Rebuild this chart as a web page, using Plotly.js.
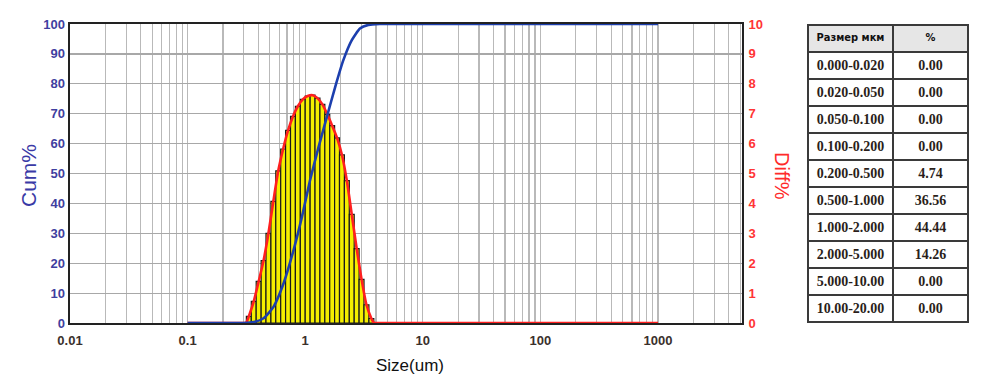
<!DOCTYPE html>
<html>
<head>
<meta charset="utf-8">
<script src="https://cdn.plot.ly/plotly-3.0.1.min.js"></script>
<style>
html,body{margin:0;padding:0;background:#ffffff;}
#chart{width:1000px;height:385px;}
</style>
</head>
<body>
<div id="chart"></div>
<script>
// ---- data ----
const binEdges = [0.316, 0.348, 0.383, 0.422, 0.464, 0.511, 0.562, 0.619, 0.681, 0.750, 0.825, 0.909, 1.000,
                  1.101, 1.212, 1.334, 1.468, 1.616, 1.778, 1.957, 2.154, 2.371, 2.610, 2.873, 3.162, 3.481, 3.831];
const diffValues = [0.22, 0.72, 1.39, 2.09, 3.00, 4.07, 5.09, 5.82, 6.44, 6.91, 7.25, 7.48, 7.59,
                    7.62, 7.52, 7.31, 6.98, 6.60, 6.19, 5.62, 4.76, 3.63, 2.49, 1.46, 0.61, 0.15];
const diffLineEnds = [0.1, 1000];
const cumSize  = [0.1, 0.3, 0.364, 0.443, 0.539, 0.655, 0.796, 0.938, 1.10, 1.30, 1.53, 1.80, 2.11, 2.49, 2.92, 3.44, 4.32, 1000];
const cumValue = [0,   0,   0.3,   1.6,   5.5,   13.3,  24.4,  35.5,  47.8, 58.9, 69.0, 79.0, 87.9, 94.6, 98.5, 99.7, 100, 100];
const xTickVals  = [0.01, 0.1, 1, 10, 100, 1000];
const xTickText  = ["0.01", "0.1", "1", "10", "100", "1000"];
const tableHeader = ["Размер\u00a0мкм", "%"];
const sizeRanges = ["0.000-0.020", "0.020-0.050", "0.050-0.100", "0.100-0.200", "0.200-0.500",
                    "0.500-1.000", "1.000-2.000", "2.000-5.000", "5.000-10.00", "10.00-20.00"];
const rangePercent = ["0.00", "0.00", "0.00", "0.00", "4.74", "36.56", "44.44", "14.26", "0.00", "0.00"];

// ---- derived geometry ----
const barX = [], barW = [], topX = [];
for (let i = 0; i < diffValues.length; i++) {
  const lo = binEdges[i], hi = binEdges[i + 1];
  barX.push((lo + hi) / 2);
  barW.push(hi - lo);
  topX.push(Math.sqrt(lo * hi));
}
const redCurveX = [binEdges[0]].concat(topX, [binEdges[binEdges.length - 1]]);
const redCurveY = [0].concat(diffValues, [0]);

// grid positions at every 1..9 x decade
const gridVals = [], gridText = [];
for (let e = -2; e <= 3; e++) {
  for (let m = 1; m <= 9; m++) {
    const v = m * Math.pow(10, e);
    if (v > 5000) break;
    gridVals.push(v);
    const idx = xTickVals.findIndex(t => Math.abs(t - v) / v < 1e-9);
    gridText.push(idx >= 0 ? xTickText[idx] : "");
  }
}

const L = 70, R = 742, T = 24, B = 323, W = 1000, H = 385;
const paperW = 970 - L;
const px = x => (x - L) / paperW;
const py = y => (B - y) / (B - T);

const redLine = {color: '#ff1f1f', width: 2.6};
const traces = [
  {
    type: 'bar', x: barX, y: diffValues, width: barW,
    xaxis: 'x', yaxis: 'y',
    marker: {color: '#f4ee00', line: {color: '#1a1a1a', width: 1.2}},
    hoverinfo: 'skip', showlegend: false
  },
  { // flat parts of the diff line
    type: 'scatter', mode: 'lines',
    x: [diffLineEnds[0], binEdges[0], null, binEdges[binEdges.length - 1], diffLineEnds[1]],
    y: [0, 0, null, 0, 0],
    xaxis: 'x', yaxis: 'y', connectgaps: false,
    line: redLine, hoverinfo: 'skip', showlegend: false
  },
  {
    type: 'scatter', mode: 'lines', x: redCurveX, y: redCurveY,
    xaxis: 'x', yaxis: 'y',
    line: Object.assign({shape: 'spline', smoothing: 0.6}, redLine),
    hoverinfo: 'skip', showlegend: false
  },
  {
    type: 'scatter', mode: 'lines', x: cumSize, y: cumValue,
    xaxis: 'x', yaxis: 'y2',
    line: {color: '#1c3fae', width: 2.6, shape: 'spline', smoothing: 0.5},
    hoverinfo: 'skip', showlegend: false
  },
  {
    type: 'table',
    domain: {x: [px(808), px(968)], y: [0, 0.997]},
    columnwidth: [85, 75],
    header: {
      values: tableHeader,
      height: 27, align: 'center',
      fill: {color: '#e6e6e6'},
      line: {color: '#3a3a3a', width: 1.5},
      font: {family: 'DejaVu Sans Condensed, Liberation Sans, Arial, sans-serif', size: 11, color: '#111', weight: 'bold'}
    },
    cells: {
      values: [sizeRanges, rangePercent],
      height: 27, align: 'center',
      fill: {color: '#ffffff'},
      line: {color: '#3a3a3a', width: 1.5},
      font: {family: 'Liberation Serif, Times New Roman, serif', size: 14, color: '#2a1e1a', weight: 'bold'}
    }
  }
];

const layout = {
  width: W, height: H,
  margin: {l: L, r: W - 970, t: T, b: H - B, pad: 0},
  paper_bgcolor: '#ffffff', plot_bgcolor: '#ffffff',
  font: {family: 'Liberation Sans, Arial, sans-serif'},
  bargap: 0,
  xaxis: {
    type: 'log', domain: [0, (R - L) / paperW],
    range: [-2, 3.714],
    tickmode: 'array', tickvals: gridVals, ticktext: gridText,
    ticks: '', showgrid: true, gridcolor: '#b9b9b9', gridwidth: 1.2,
    showline: true, linecolor: '#222', linewidth: 2, mirror: true,
    layer: 'below traces', ticklabelstandoff: 4,
    tickfont: {size: 13, color: '#3a302c', weight: 'bold'},
    zeroline: false
  },
  yaxis: {
    side: 'right', range: [0, 10], dtick: 1, anchor: 'x',
    ticks: '', showgrid: true, gridcolor: '#a8a8a8', gridwidth: 1.2,
    showline: true, linecolor: '#222', linewidth: 2, mirror: true,
    layer: 'below traces', ticklabelstandoff: 2,
    tickfont: {size: 13, color: '#ff3535', weight: 'bold'},
    zeroline: false
  },
  yaxis2: {
    overlaying: 'y', side: 'left', anchor: 'x',
    range: [0, 100], dtick: 10, layer: 'below traces', ticklabelstandoff: 4,
    ticks: '', showgrid: false, zeroline: false, showline: false,
    tickfont: {size: 13, color: '#3f3fa0', weight: 'bold'}
  },
  annotations: [
    {text: 'Cum%', xref: 'paper', yref: 'paper', x: px(28), y: py(176), xanchor: 'center', yanchor: 'middle',
     textangle: -90, showarrow: false, font: {size: 21, color: '#3a3aa6'}},
    {text: 'Diff%', xref: 'paper', yref: 'paper', x: px(782), y: py(176), xanchor: 'center', yanchor: 'middle',
     textangle: 90, showarrow: false, font: {size: 20, color: '#ff2a2a'}},
    {text: 'Size(um)', xref: 'paper', yref: 'paper', x: px(410), y: py(366), xanchor: 'center', yanchor: 'middle',
     showarrow: false, font: {size: 17, color: '#111'}}
  ]
};

Plotly.newPlot('chart', traces, layout, {staticPlot: true, displayModeBar: false});
</script>
</body>
</html>
